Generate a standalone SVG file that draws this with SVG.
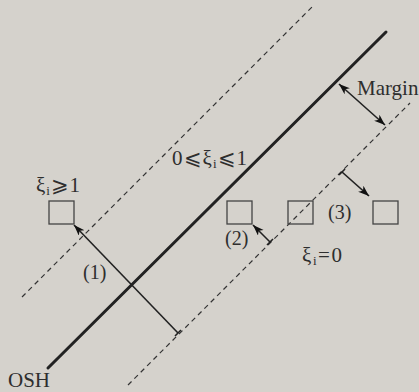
<svg xmlns="http://www.w3.org/2000/svg" width="419" height="392" viewBox="0 0 419 392">
<style>
.t{font-family:"Liberation Serif","DejaVu Serif",serif;font-size:21px;fill:#2e2e2e}
.p{font-size:20px}
.sub{font-size:13px}
.dash{stroke:#333;stroke-width:1.2;stroke-dasharray:5 4;fill:none}
.sq{fill:none;stroke:#444;stroke-width:1.3}
.arr{stroke:#222;stroke-width:1.6;fill:none}
</style>
<defs>
<marker id="ah" markerUnits="userSpaceOnUse" markerWidth="12" markerHeight="10" refX="11" refY="4" orient="auto-start-reverse">
<path d="M0,0 L11,4 L0,8 L3,4 z" fill="#111"/>
</marker>
</defs>
<rect width="419" height="392" fill="#d5d2cc"/>
<g id="connectors">
<line id="margin-upper" class="dash" x1="22" y1="297" x2="313" y2="6"/>
<line id="margin-lower" class="dash" x1="128" y1="385" x2="410" y2="103"/>
<line id="osh-line" x1="48" y1="368" x2="386" y2="32" stroke="#222" stroke-width="3" stroke-linecap="round"/>
<line class="arr" x1="339" y1="84" x2="385" y2="125" marker-start="url(#ah)" marker-end="url(#ah)"/>
<line class="arr" x1="342" y1="172" x2="369" y2="196" marker-end="url(#ah)"/>
<line class="arr" x1="270" y1="242" x2="253" y2="225" marker-end="url(#ah)"/>
<line class="arr" x1="178" y1="333" x2="74" y2="225" marker-end="url(#ah)"/>
<line class="arr" x1="175" y1="336" x2="181" y2="330"/>
<line class="arr" x1="267" y1="245" x2="273" y2="239"/>
<line class="arr" x1="339" y1="175" x2="345" y2="169"/>
</g>
<g id="sq1"><rect class="sq" x="49" y="201" width="25" height="23"/></g>
<g id="sq2"><rect class="sq" x="227" y="201" width="25" height="23"/></g>
<g id="sq3"><rect class="sq" x="288" y="201" width="25" height="23"/></g>
<g id="sq4"><rect class="sq" x="373" y="201" width="25" height="23"/></g>
<g id="labels">
<text class="t" x="357" y="95">Margin</text>
<text class="t" x="36" y="192" textLength="44">ξ<tspan class="sub" dy="3">i</tspan><tspan dy="-3">⩾1</tspan></text>
<text class="t" x="172" y="165" textLength="75">0⩽ξ<tspan class="sub" dy="3">i</tspan><tspan dy="-3">⩽1</tspan></text>
<text class="t p" x="83" y="279">(1)</text>
<text class="t p" x="225" y="245">(2)</text>
<text class="t p" x="328" y="219">(3)</text>
<text class="t" x="302" y="262" textLength="40">ξ<tspan class="sub" dy="3">i</tspan><tspan dy="-3">=0</tspan></text>
<text class="t" x="8" y="387">OSH</text>
</g>
</svg>
